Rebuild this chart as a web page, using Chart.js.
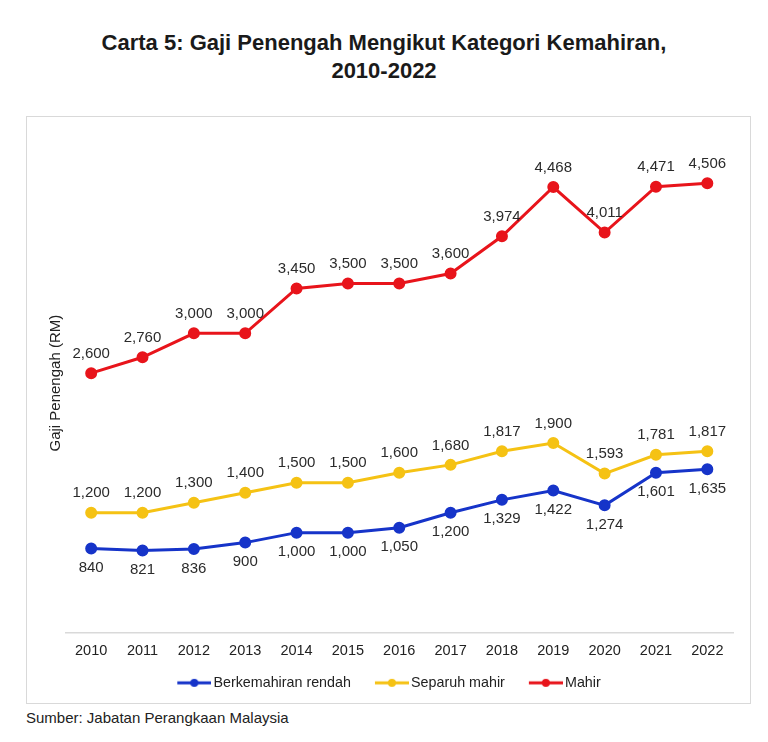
<!DOCTYPE html>
<html>
<head>
<meta charset="utf-8">
<script src="https://cdn.jsdelivr.net/npm/chart.js@4.4.0/dist/chart.umd.min.js"></script>
<style>
    body { margin: 0; background: #fff; width: 768px; height: 742px; position: relative; font-family: "Liberation Sans", Arial, sans-serif; }
    #tajuk { position: absolute; left: 0; top: 29px; width: 768px; text-align: center; font-weight: bold; font-size: 22px; line-height: 28px; color: #1a1a1a; }
    #kotak { position: absolute; left: 26px; top: 116px; width: 725px; height: 588px; border: 1px solid #d9d9d9; box-sizing: border-box; }
    #sumber { position: absolute; left: 26px; top: 709px; font-size: 15px; color: #222; }
</style>
</head>
<body>
<div id="tajuk">Carta 5: Gaji Penengah Mengikut Kategori Kemahiran,<br>2010-2022</div>
<div id="kotak"><canvas id="carta" width="723" height="586"></canvas></div>
<div id="sumber">Sumber: Jabatan Perangkaan Malaysia</div>
<script>
// data carta
const tahun = ['2010', '2011', '2012', '2013', '2014', '2015', '2016', '2017', '2018', '2019', '2020', '2021', '2022'];
const rendah = [840, 821, 836, 900, 1000, 1000, 1050, 1200, 1329, 1422, 1274, 1601, 1635];
const separuhMahir = [1200, 1200, 1300, 1400, 1500, 1500, 1600, 1680, 1817, 1900, 1593, 1781, 1817];
const mahir = [2600, 2760, 3000, 3000, 3450, 3500, 3500, 3600, 3974, 4468, 4011, 4471, 4506];

const warna = ['#1634c9', '#f5c214', '#e8141b'];
const nama = ['Berkemahiran rendah', 'Separuh mahir', 'Mahir'];
const arah = [1, -1, -1]; // 1 = label bawah, -1 = label atas
const huruf = '"Liberation Sans", Arial, sans-serif';

// ikon legend: garis dengan titik, dirapatkan ke teks
const kotakLegend = 47;
function ikonLegend(c) {
    let cv = document.createElement('canvas');
    cv.width = kotakLegend + 10; cv.height = 10;
    let g = cv.getContext('2d');
    let mula = cv.width - 34;
    g.strokeStyle = c; g.lineWidth = 3;
    g.beginPath(); g.moveTo(mula, 5); g.lineTo(cv.width, 5); g.stroke();
    g.fillStyle = c;
    g.beginPath(); g.arc(mula + 17, 5, 4, 0, Math.PI * 2); g.fill();
    return cv;
}
const ikon = warna.map(ikonLegend);

// label nilai pada setiap titik
const labelNilai = {
    id: 'labelNilai',
    afterDatasetsDraw(chart) {
        const c = chart.ctx;
        c.save();
        c.font = '15px ' + huruf;
        c.fillStyle = '#2b2b2b';
        c.textAlign = 'center';
        c.textBaseline = 'middle';
        chart.data.datasets.forEach((ds, i) => {
            chart.getDatasetMeta(i).data.forEach((pt, j) => {
                c.fillText(ds.data[j].toLocaleString('en-US'), pt.x, pt.y + arah[i] * 19.5);
            });
        });
        c.restore();
    }
};

function setData(d, i) {
    return {
        label: nama[i],
        data: d,
        borderColor: warna[i],
        backgroundColor: warna[i],
        borderWidth: 3,
        pointRadius: 4.5,
        pointHoverRadius: 4.5,
        tension: 0,
    };
}

const graf = new Chart(document.getElementById('carta').getContext('2d'), {
    type: 'line',
    data: {
        labels: tahun,
        datasets: [rendah, separuhMahir, mahir].map(setData)
    },
    options: {
        responsive: false,
        animation: false,
        layout: { padding: { top: 17, right: 17, left: 0, bottom: 3 } },
        scales: {
            x: {
                offset: true,
                grid: { display: false, drawTicks: false },
                border: { display: true, color: '#d9d9d9', width: 1.5 },
                ticks: { color: '#222', padding: 10, font: { size: 14.5, family: huruf } }
            },
            y: {
                min: 0,
                max: 5000,
                grid: { display: false, drawTicks: false },
                border: { display: false },
                ticks: { display: false },
                title: {
                    display: true,
                    text: 'Gaji Penengah (RM)',
                    color: '#222',
                    padding: { top: 21.5, bottom: 2 },
                    font: { size: 15, lineHeight: 1, family: huruf }
                }
            }
        },
        plugins: {
            legend: {
                position: 'bottom',
                labels: {
                    color: '#222',
                    usePointStyle: true,
                    pointStyleWidth: kotakLegend,
                    padding: 6,
                    font: { size: 14.3, family: huruf },
                    generateLabels(chart) {
                        const items = Chart.defaults.plugins.legend.labels.generateLabels(chart);
                        items.forEach((it, i) => { it.pointStyle = ikon[i]; });
                        return items;
                    }
                }
            },
            tooltip: { enabled: false }
        }
    },
    plugins: [labelNilai]
});
</script>
</body>
</html>
